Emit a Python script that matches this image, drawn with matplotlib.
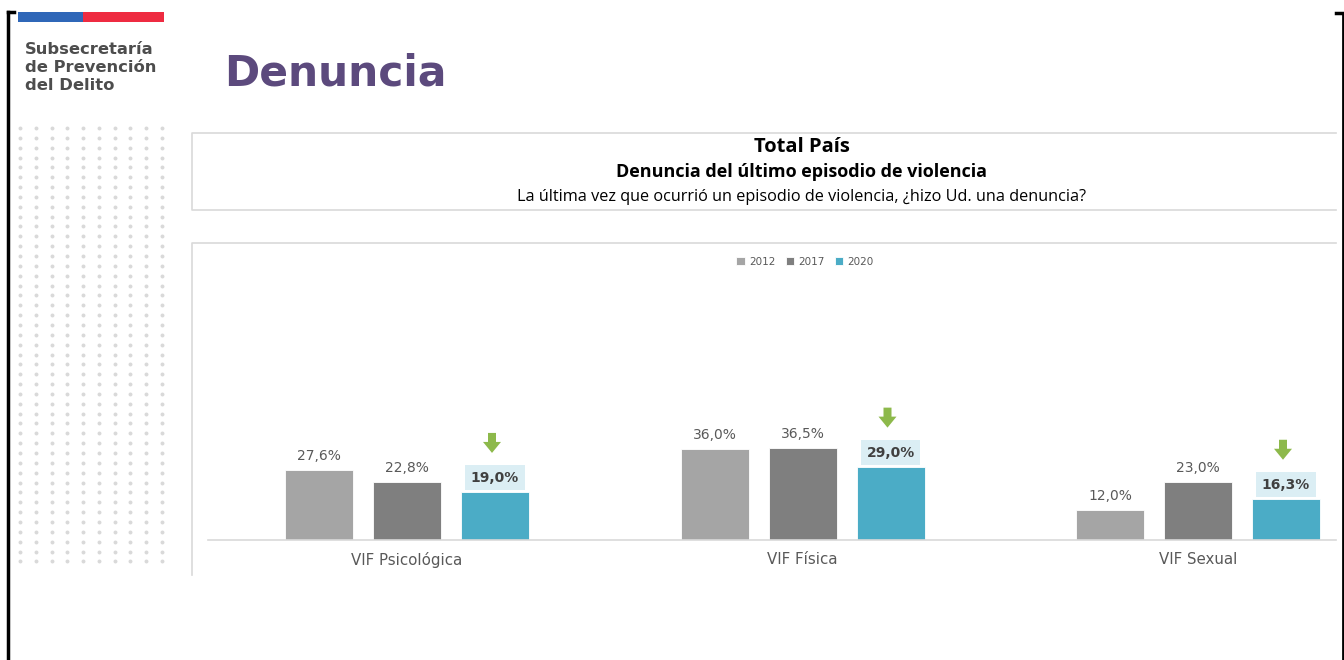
import matplotlib.pyplot as plt
import numpy as np

categories = ["VIF Psicológica", "VIF Física", "VIF Sexual"]
years = ["2012", "2017", "2020"]
values_2012 = [27.6, 36.0, 12.0]
values_2017 = [22.8, 36.5, 23.0]
values_2020 = [19.0, 29.0, 16.3]

colors = ["#a5a5a5", "#7f7f7f", "#4bacc6"]
text_grey = "#595959"
W, H = 1344, 660

plt.rcParams['font.family'] = ['DejaVu Sans']
title_font = ['Open Sans', 'DejaVu Sans']

fig = plt.figure(figsize=(W / 100, H / 100), dpi=100)

# background layer in pixel coordinates (decoration, frames, header)
bg = fig.add_axes([0, 0, 1, 1], zorder=0)
bg.set_xlim(0, W)
bg.set_ylim(H, 0)
bg.axis("off")

# page frame
bg.plot([8, 8], [12, H], color="black", lw=2.5)
bg.plot([8, 14], [12, 12], color="black", lw=2.5)
bg.plot([1343, 1343], [13, H], color="black", lw=2)
bg.plot([1336, 1343], [13, 13], color="black", lw=2.5)

# flag bar
bg.add_patch(plt.Rectangle((18, 12), 65, 10, color="#2f67b8", lw=0))
bg.add_patch(plt.Rectangle((83, 12), 81, 10, color="#ee2b41", lw=0))

for i, line in enumerate(["Subsecretaría", "de Prevención", "del Delito"]):
    bg.text(25, 49 + i * 18.5, line, fontsize=11.8, fontweight="bold",
            color="#4d4d4d", va="center", ha="left")

bg.text(224, 73, "Denuncia", fontsize=30.5, fontweight="bold",
        color="#5c4a7d", va="center", ha="left")

# dotted pattern
dx, dy = np.meshgrid(np.linspace(20, 162, 10), np.arange(128, 571, 9.85))
bg.scatter(dx.ravel(), dy.ravel(), s=8, color="#d9d9d9", lw=0)

# title box
box_col = "#d9d9d9"
bg.plot([1336, 192, 192, 1336], [133, 133, 210, 210], color=box_col, lw=1.2)
bg.text(802, 147, "Total País", fontsize=14.5, fontweight="bold",
        ha="center", va="center", color="black", family=title_font)
bg.text(802, 172, "Denuncia del último episodio de violencia", fontsize=13,
        fontweight="bold", ha="center", va="center", color="black",
        family=title_font)
bg.text(802, 197, "La última vez que ocurrió un episodio de violencia, "
        "¿hizo Ud. una denuncia?", fontsize=11.7, ha="center", va="center",
        color="black", family=title_font)

# chart box
bg.plot([192, 192, 1336], [575, 243, 243], color=box_col, lw=1.2)

# bar chart
px_per_unit = 395.5
x_left, x_right = 208, 1336
base_y, top_y = 540, 243
ax = fig.add_axes([x_left / W, (H - base_y) / H, (x_right - x_left) / W,
                   (base_y - top_y) / H], zorder=1)
ax.patch.set_alpha(0)
ax.set_xlim((x_left - 407) / px_per_unit, (x_right - 407) / px_per_unit)
ax.set_ylim(0, (base_y - top_y) / 2.53)

x = np.arange(len(categories))
width = 68 / px_per_unit
step = 88 / px_per_unit
series = [values_2012, values_2017, values_2020]
for k, (vals, col, yr) in enumerate(zip(series, colors, years)):
    pos = x + (k - 1) * step
    ax.bar(pos, vals, width, color=col, label=yr, edgecolor="white", lw=0.6)
    for p, v in zip(pos, vals):
        lab = f"{v:.1f}%".replace(".", ",")
        if k < 2:
            ax.annotate(lab, (p, v), xytext=(0, 14), textcoords="offset pixels",
                        ha="center", va="center", fontsize=10, color=text_grey)
        else:
            ax.annotate(lab, (p, v), xytext=(0, 14), textcoords="offset pixels",
                        ha="center", va="center", fontsize=10, fontweight="bold",
                        color="#404040",
                        bbox=dict(boxstyle="square,pad=0.4", fc="#dbeef4", ec="none"))

ax.set_xticks(x)
ax.set_xticklabels(categories, fontsize=10.8, color=text_grey)
ax.tick_params(axis="x", length=0, pad=9)
ax.set_yticks([])
for s in ["top", "right", "left"]:
    ax.spines[s].set_visible(False)
ax.spines["bottom"].set_color("#d9d9d9")
ax.spines["bottom"].set_linewidth(1.2)

# green arrows above 2020 bars, drawn in pixel space
for p, v in zip(x + step, values_2020):
    bx, by = ax.transData.transform((p, v))
    cx = bx - 3
    top = H - (by + 59)
    neck = top + 9
    tip = H - (by + 39)
    arrow = [(cx - 4, top), (cx + 4, top), (cx + 4, neck), (cx + 9, neck),
             (cx, tip), (cx - 9, neck), (cx - 4, neck)]
    bg.add_patch(plt.Polygon(arrow, closed=True, color="#8db94b", lw=0))

ax.legend(loc="center", bbox_to_anchor=(805 / W, 1 - 262 / H),
          bbox_transform=fig.transFigure, ncol=3, frameon=False, fontsize=7.5,
          handlelength=0.8, handleheight=0.8, handletextpad=0.4,
          columnspacing=1.0, labelcolor=text_grey)

fig.savefig("out.png", dpi=100)
